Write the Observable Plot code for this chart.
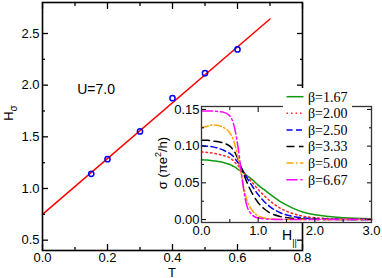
<!DOCTYPE html>
<html><head><meta charset="utf-8">
<script src="https://cdn.jsdelivr.net/npm/d3@7"></script>
<script src="https://cdn.jsdelivr.net/npm/@observablehq/plot@0.6"></script>
<style>
body{margin:0;background:white;}
#wrap{position:relative;width:382px;height:278px;}
#inset{position:absolute;left:150px;top:86px;}
svg{overflow:visible;}
</style></head><body><div id="wrap"><div id="main"></div><div id="inset"></div></div>
<script>
// ---- main panel data ----
const fitT = [0, 0.7];
const fitH = [0.75, 2.64];
const ptT = [0.15, 0.2, 0.3, 0.4, 0.5, 0.6];
const ptH = [1.142, 1.284, 1.552, 1.874, 2.116, 2.346];
const mainXTicks = [0, 0.2, 0.4, 0.6, 0.8];
const mainXMinor = [0.1, 0.3, 0.5, 0.7];
const mainYTicks = [0.5, 1.0, 1.5, 2.0, 2.5];
const mainYMinor = [0.75, 1.25, 1.75, 2.25];
const annotText = "U=7.0";
const annotT = 0.165;
const annotH = 1.96;

// ---- inset data ----
const Hpar = [0, 0.1, 0.2, 0.3, 0.4, 0.5, 0.55, 0.6, 0.65, 0.7, 0.75, 0.8, 0.9, 1.0, 1.1, 1.2, 1.4, 1.6, 1.8, 2.0, 2.2, 2.5, 3.0];
const seriesNames = ["β=1.67", "β=2.00", "β=2.50", "β=3.33", "β=5.00", "β=6.67"];
const sigB167 = [0.0815, 0.081, 0.080, 0.079, 0.0775, 0.075, 0.073, 0.071, 0.068, 0.066, 0.063, 0.060, 0.054, 0.047, 0.041, 0.035, 0.024, 0.016, 0.010, 0.0065, 0.0045, 0.0025, 0.0012];
const sigB200 = [0.092, 0.0915, 0.0905, 0.089, 0.087, 0.084, 0.081, 0.077, 0.073, 0.068, 0.064, 0.059, 0.050, 0.041, 0.033, 0.026, 0.015, 0.0085, 0.0045, 0.0025, 0.0015, 0.0008, 0.0003];
const sigB250 = [0.1005, 0.100, 0.099, 0.097, 0.094, 0.090, 0.087, 0.082, 0.077, 0.071, 0.064, 0.057, 0.045, 0.034, 0.025, 0.018, 0.009, 0.0045, 0.0022, 0.0011, 0.0006, 0.0002, 0.0];
const sigB333 = [0.108, 0.108, 0.107, 0.106, 0.104, 0.100, 0.096, 0.090, 0.081, 0.071, 0.061, 0.051, 0.035, 0.023, 0.015, 0.0095, 0.004, 0.0017, 0.0007, 0.0003, 0.0001, 0.0, 0.0];
const sigB500 = [0.125, 0.127, 0.129, 0.128, 0.125, 0.118, 0.111, 0.099, 0.082, 0.062, 0.042, 0.027, 0.012, 0.005, 0.0025, 0.0012, 0.0003, 0.0001, 0.0, 0.0, 0.0, 0.0, 0.0];
const sigB667 = [0.148, 0.148, 0.148, 0.147, 0.146, 0.141, 0.134, 0.119, 0.096, 0.066, 0.038, 0.019, 0.006, 0.002, 0.001, 0.0005, 0.0, 0.0, 0.0, 0.0, 0.0, 0.0, 0.0];
const insetXTicks = [0, 1, 2, 3];
const insetXMinor = [0.5, 1.5, 2.5];
const insetYTicks = [0, 0.05, 0.10, 0.15];
const insetYMinor = [0.025, 0.075, 0.125];

const seriesValues = [sigB167, sigB200, sigB250, sigB333, sigB500, sigB667];
const seriesColors = ["#109a10", "#ff2020", "#0000ff", "#000000", "#ffa500", "#ff00ff"];
const seriesDash = [null, "1.5,3", "6,3.5", "8,4.5", "7,2.5,1.5,2.5", "11,3,2,3"];

const sans = "'Liberation Sans', Arial, Helvetica, sans-serif";
const serif = "'Liberation Serif', 'Times New Roman', serif";

function tickAxes(axis, anchor, ticks, size, fmt, pad, sw) {
  const A = axis === "x" ? Plot.axisX : Plot.axisY;
  const marks = [];
  const off = {bottom: {dy: -size}, top: {dy: size}, left: {dx: size}, right: {dx: -size}}[anchor];
  marks.push(A({anchor, ticks, tickSize: size, ...off, tickFormat: () => "", label: null, strokeWidth: sw}));
  if (fmt) marks.push(A({anchor, ticks, tickSize: 0, tickPadding: pad, tickFormat: fmt, label: null}));
  return marks;
}

// ---- main plot ----
const ptData = ptT.map((t, i) => ({T: t, H: ptH[i]}));
const fitData = fitT.map((t, i) => ({T: t, H: fitH[i]}));
const f1 = d3.format(".1f");
const main = Plot.plot({
  width: 382, height: 278,
  marginLeft: 42, marginRight: 80, marginTop: 2, marginBottom: 28,
  style: {fontFamily: sans, fontSize: "13px", background: "white", color: "black"},
  x: {domain: [0, 0.8]},
  y: {domain: [0.4, 2.8]},
  marks: [
    Plot.line(fitData, {x: "T", y: "H", stroke: "#ff0000", strokeWidth: 1.5}),
    Plot.dot(ptData, {x: "T", y: "H", r: 2.6, stroke: "#0000ff", strokeWidth: 1.5, fill: "none"}),
    Plot.text([annotText], {x: () => annotT, y: () => annotH, text: d => d, fontSize: 14, textAnchor: "middle"}),
    ...tickAxes("x", "bottom", mainXTicks, 6, f1, 2, 1.3),
    ...tickAxes("x", "bottom", mainXMinor, 3, null, 0, 1.3),
    ...tickAxes("x", "top", mainXTicks, 6, null, 0, 1.3),
    ...tickAxes("x", "top", mainXMinor, 3, null, 0, 1.3),
    ...tickAxes("y", "left", mainYTicks, 6, f1, 3, 1.3),
    ...tickAxes("y", "left", mainYMinor, 3, null, 0, 1.3),
    ...tickAxes("y", "right", mainYTicks, 6, null, 0, 1.3),
    ...tickAxes("y", "right", mainYMinor, 3, null, 0, 1.3),
    Plot.frame({stroke: "black", strokeWidth: 1.6})
  ]
});
document.getElementById("main").appendChild(main);
const ms = d3.select(main);
ms.append("text").attr("x", 172).attr("y", 276.5).attr("text-anchor", "middle")
  .attr("font-family", sans).attr("font-size", 13).text("T");
const hl = ms.append("text").attr("transform", "translate(12.5,113) rotate(-90)")
  .attr("text-anchor", "middle").attr("font-family", sans).attr("font-size", 13);
hl.append("tspan").text("H");
hl.append("tspan").attr("font-size", 10).attr("dy", 4).text("σ");

// ---- inset ----
const insetData = seriesNames.flatMap((name, k) => Hpar.map((h, i) => ({name, H: h, s: seriesValues[k][i]})));
const f2 = d3.format(".2f");
const inset = Plot.plot({
  width: 232, height: 160,
  marginLeft: 51, marginRight: 11, marginTop: 20, marginBottom: 24,
  style: {fontFamily: sans, fontSize: "13px", background: "none", color: "black", overflow: "visible"},
  x: {domain: [0, 3]},
  y: {domain: [-0.004, 0.154]},
  marks: [
    Plot.frame({fill: "white", stroke: "none"}),
    ...seriesNames.map((name, k) => Plot.line(insetData.filter(d => d.name === name), {
      x: "H", y: "s", stroke: seriesColors[k], strokeWidth: 1.5,
      strokeDasharray: seriesDash[k] || undefined, curve: "monotone-x"
    })),
    ...tickAxes("x", "bottom", insetXTicks, 5, f1, 3, 1),
    ...tickAxes("x", "bottom", insetXMinor, 3, null, 0, 1),
    ...tickAxes("x", "top", insetXTicks, 5, null, 0, 1),
    ...tickAxes("x", "top", insetXMinor, 3, null, 0, 1),
    ...tickAxes("y", "left", insetYTicks, 5, f2, 2, 1),
    ...tickAxes("y", "left", insetYMinor, 3, null, 0, 1),
    ...tickAxes("y", "right", insetYTicks, 5, null, 0, 1),
    ...tickAxes("y", "right", insetYMinor, 3, null, 0, 1),
    Plot.frame({stroke: "#333", strokeWidth: 1.3})
  ]
});
document.getElementById("inset").appendChild(inset);
const is = d3.select(inset);
const yl = is.append("text").attr("transform", "translate(17,77) rotate(-90)")
  .attr("text-anchor", "middle").attr("font-family", sans).attr("font-size", 13);
yl.append("tspan").text("σ (πe");
yl.append("tspan").attr("font-size", 9).attr("dy", -6).text("2");
yl.append("tspan").attr("dy", 6).text("/h)");
const xl = is.append("text").attr("x", 132).attr("y", 153.5).attr("text-anchor", "start")
  .attr("font-family", sans).attr("font-size", 14);
xl.append("tspan").text("H");
xl.append("tspan").attr("font-size", 9).attr("dy", 6).text("||");

// legend
const lg = is.append("g");
lg.append("rect").attr("x", 133).attr("y", 2).attr("width", 69).attr("height", 100)
  .attr("fill", "white").attr("stroke", "none");
seriesNames.forEach((name, k) => {
  const yy = 10.7 + k * 16.6;
  lg.append("line").attr("x1", 136.5).attr("x2", 153.5).attr("y1", yy).attr("y2", yy)
    .attr("stroke", seriesColors[k]).attr("stroke-width", 1.5)
    .attr("stroke-dasharray", seriesDash[k]);
  lg.append("text").attr("x", 158).attr("y", yy + 4.8).attr("text-anchor", "start")
    .attr("font-family", serif).attr("font-size", 14).attr("fill", "black").text(name);
});
</script></body></html>
